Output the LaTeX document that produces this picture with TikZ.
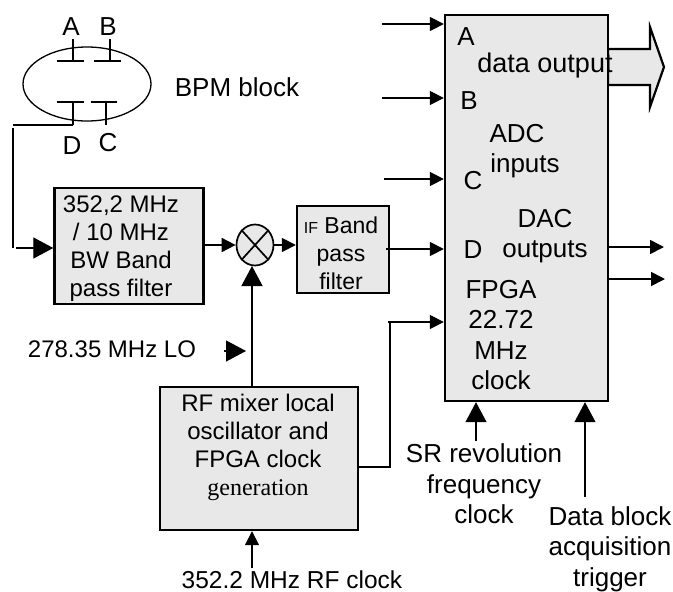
\documentclass[tikz,border=0pt]{standalone}
\usepackage{xcolor}
\usepackage{fontspec}
\setmainfont{Liberation Sans}
\newfontfamily\genfont{Liberation Serif}
\usetikzlibrary{arrows.meta}
\usetikzlibrary{shapes.geometric}
\definecolor{boxgray}{HTML}{E8E8E8}
\begin{document}
\begin{tikzpicture}[x=1pt, y=-1pt, line width=1.7pt,
	block/.style = {draw, fill=boxgray, line width=2.4pt, inner sep=0pt},
	txt/.style = {font=\fontsize{24}{28}\selectfont, align=center, inner sep=0pt},
	bigtxt/.style = {font=\fontsize{26}{30.5}\selectfont, align=center, inner sep=0pt},
	sig/.style = {-{Triangle[length=14pt,width=14pt]}},
	bigsig/.style = {-{Triangle[length=20pt,width=21pt]}}]
	\useasboundingbox (0,0) rectangle (673,592);
	\node[draw, ellipse, line width=1.3pt, minimum width=128pt, minimum height=74pt, inner sep=0pt] (bpm) at (87,84) {};
	\coordinate (padA) at (73,61);
	\coordinate (padB) at (110,61);
	\coordinate (padD) at (73,102);
	\coordinate (padC) at (106,102);
	\coordinate (padAtop) at (73,39);
	\coordinate (padBtop) at (110,39);
	\coordinate (padDend) at (73,125);
	\coordinate (padCend) at (106,125);
	\coordinate (wireL) at (13,125);
	\coordinate (wireT) at (13,128);
	\coordinate (wireB) at (13,248);
	\coordinate (wireS) at (16,248);
	\draw[line width=1.3pt] (padAtop) -- (padA) ([xshift=-16pt]padA) -- ([xshift=11pt]padA);
	\draw[line width=1.3pt] (padBtop) -- (padB) ([xshift=-16pt]padB) -- ([xshift=11pt]padB);
	\draw[line width=1.3pt] (padDend) -- (padD) ([xshift=-16pt]padD) -- ([xshift=11pt]padD);
	\draw[line width=1.3pt] (padCend) -- (padC) ([xshift=-15pt]padC) -- ([xshift=11pt]padC);
	\draw (padDend) -- (wireL);
	\draw[line width=1.3pt] (wireT) -- (wireB);
	\node[bigtxt] (labA) at (71,27) {A};
	\node[bigtxt] (labB) at (108,27) {B};
	\node[bigtxt] (labD) at (72,146) {D};
	\node[bigtxt] (labC) at (108,143) {C};
	\node[bigtxt] (labBPM) at (237,87) {BPM block};

	\node[block, minimum width=149pt, minimum height=116pt] (bpf) at (129,246) {};
	\node[txt] (bpftxt) at (121,249) {352,2 MHz\\/ 10 MHz\\BW Band\\pass filter};
	\node[draw, ellipse, fill=boxgray, minimum width=37pt, minimum height=41pt, inner sep=0pt] (mix) at (255,245) {};
	\draw (mix.north west) -- (mix.south east) (mix.north east) -- (mix.south west);
	\node[block, minimum width=92pt, minimum height=87pt] (ifbox) at (343,249.5) {};
	\node[txt, font=\fontsize{23}{28}\selectfont] (iftxt) at (341,253) {{\fontsize{16}{16}\selectfont IF} Band\\pass\\filter};

	\draw[bigsig, line width=1.3pt] (wireS) -- (bpf.west |- wireS);
	\draw[sig] (bpf.east |- mix) -- (mix);
	\draw[sig] (mix) -- (ifbox.west |- mix);

	\coordinate (dataA) at (608,49);
	\coordinate (dataB) at (608,85);
	\draw[fill=boxgray, line width=2.2pt, line join=miter] (dataA) -- (650,49) -- (650,27) -- (664,67) -- (650,107) -- (650,85) -- (dataB) -- cycle;
	\node[block, minimum width=163pt, minimum height=386pt] (fpga) at (526.5,208) {};

	\coordinate (inA) at (382,24);
	\coordinate (inB) at (382,98);
	\coordinate (inC) at (384,179);
	\coordinate (inD) at (386,249);
	\coordinate (outA) at (664,247);
	\coordinate (outB) at (665,279);
	\draw[sig] (inA) -- (inA -| fpga.west);
	\draw[sig] (inB) -- (inB -| fpga.west);
	\draw[sig] (inC) -- (inC -| fpga.west);
	\draw[sig] (inD) -- (inD -| fpga.west);
	\draw[sig] (outA -| fpga.east) -- (outA);
	\draw[sig] (outB -| fpga.east) -- (outB);

	\node[bigtxt] (fA) at (466,37) {A};
	\node[bigtxt] (fB) at (469,101) {B};
	\node[bigtxt] (fC) at (473,181) {C};
	\node[bigtxt] (fD) at (473,250) {D};
	\node[bigtxt, font=\fontsize{27}{30}\selectfont] (fdata) at (545,66) {data output};
	\node[bigtxt, font=\fontsize{26}{30}\selectfont] (fadc) at (517,151) {ADC\\\hspace*{16pt}inputs};
	\node[bigtxt, font=\fontsize{26}{30}\selectfont] (fdac) at (545,236) {DAC\\outputs};
	\node[bigtxt] (fclk) at (501,335) {FPGA\\22.72\\MHz\\clock};

	\node[block, minimum width=198pt, minimum height=143pt] (rfbox) at (259,458.5) {};
	\node[txt] (rftxt) at (258,447) {RF mixer local\\oscillator and\\FPGA clock\\{\genfont generation}};

	\coordinate (loS) at (224,351);
	\coordinate (loE) at (246,351);
	\coordinate (mixIn) at (252,266);
	\coordinate (rfin) at (252,568);
	\coordinate (clkV) at (390,467);
	\coordinate (clkT) at (390,322);
	\coordinate (clkS) at (388,322);
	\coordinate (srin) at (476,441);
	\coordinate (trig) at (585,497);
	\draw[bigsig, line width=1.3pt] (rfbox.north -| mixIn) -- (mixIn);
	\draw[bigsig, line width=1.2pt] (loS) -- (loE);
	\draw[sig] (rfin) -- (rfin |- rfbox.south);
	\draw (rfbox.east |- clkV) -- (clkV) -- (clkT);
	\draw[sig] (clkS) -- (clkS -| fpga.west);
	\draw[bigsig, line width=1.3pt] (srin) -- (srin |- fpga.south);
	\draw[bigsig, line width=1.3pt] (trig) -- (trig |- fpga.south);

	\node[txt] (loL) at (112,349) {278.35 MHz LO};
	\node[bigtxt] (srL) at (484,484) {SR revolution\\frequency\\clock};
	\node[bigtxt] (trigL) at (610,549) {Data block\\acquisition\\trigger};
	\node[txt, font=\fontsize{24.5}{28}\selectfont] (rfL) at (292,580) {352.2 MHz RF clock};
\end{tikzpicture}
\end{document}
